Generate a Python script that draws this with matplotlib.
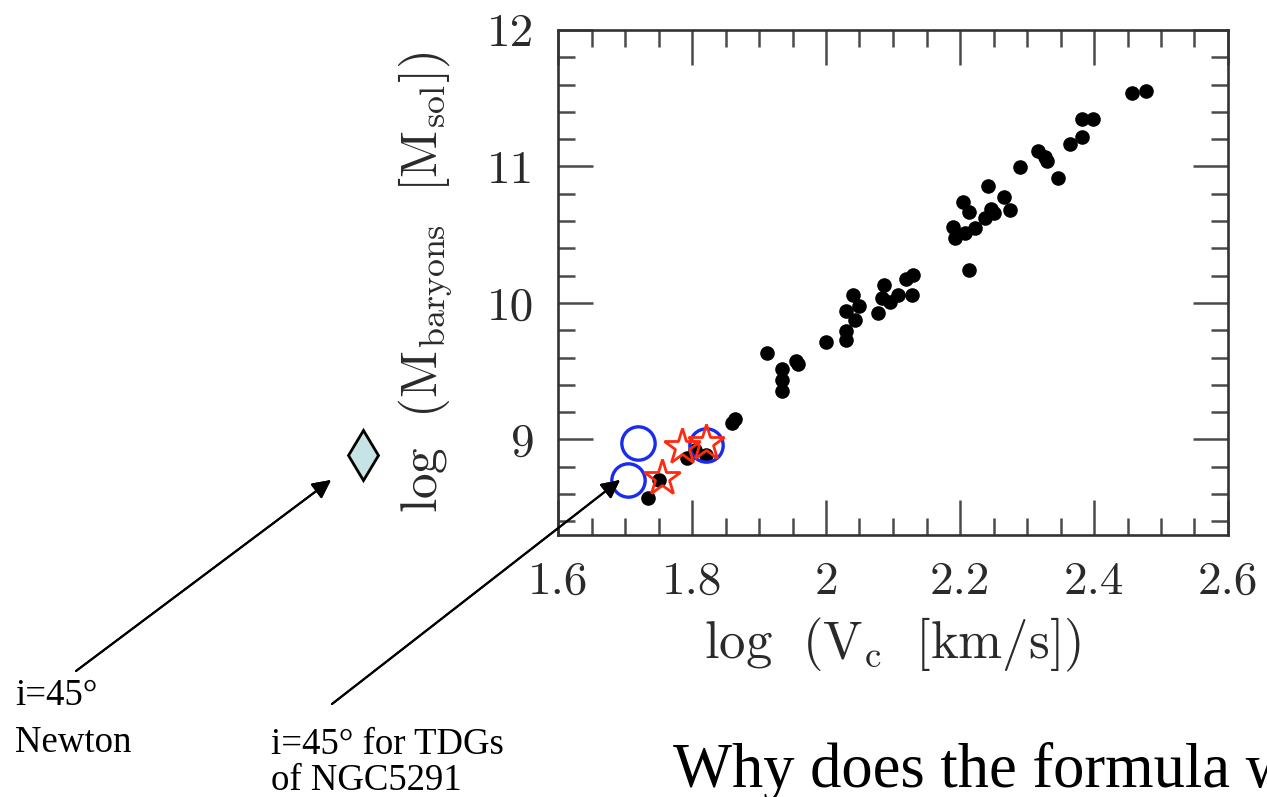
import matplotlib
matplotlib.use("Agg")
import matplotlib.pyplot as plt
from matplotlib.ticker import MultipleLocator, FixedLocator

plt.rcParams['mathtext.fontset'] = 'cm'

# ---- data ----
gal_logv = [2.456, 2.477, 2.382, 2.398, 2.382, 2.364, 2.317, 2.327, 2.330, 2.289,
            2.347, 2.242, 2.266, 2.274, 2.247, 2.250, 2.237, 2.222, 2.204, 2.214,
            2.189, 2.208, 2.193, 2.213,
            2.130, 2.119, 2.086, 2.128, 2.107, 2.083, 2.095, 2.078, 2.041, 2.050,
            2.030, 2.043, 2.030, 2.030, 2.000, 1.955, 1.958, 1.912, 1.934, 1.934,
            1.934, 1.859, 1.864,
            1.735, 1.751, 1.793, 1.8045, 1.821]
gal_logm = [11.536, 11.551, 11.346, 11.346, 11.214, 11.165, 11.116, 11.067, 11.040, 10.994,
            10.918, 10.857, 10.774, 10.681, 10.690, 10.660, 10.620, 10.547, 10.742, 10.669,
            10.559, 10.511, 10.474, 10.242,
            10.205, 10.174, 10.134, 10.056, 10.061, 10.037, 10.005, 9.925, 10.061, 9.975,
            9.940, 9.876, 9.797, 9.729, 9.717, 9.575, 9.555, 9.630, 9.519, 9.432,
            9.358, 9.123, 9.148,
            8.574, 8.700, 8.862, 8.923, 8.887]

tdg_circ_logv = [1.720, 1.705, 1.821]
tdg_circ_logm = [8.977, 8.703, 8.960]

tdg_star_logv = [1.785, 1.821, 1.755]
tdg_star_logm = [8.948, 8.977, 8.716]

newton_logv = [1.309]
newton_logm = [8.886]

xticks = [1.6, 1.8, 2.0, 2.2, 2.4, 2.6]
xticklabels = ['1.6', '1.8', '2', '2.2', '2.4', '2.6']
yticks = [9, 10, 11, 12]
yticklabels = ['9', '10', '11', '12']

# ---- figure ----
W, H = 1267, 797
fig = plt.figure(figsize=(W / 100, H / 100), dpi=100)
ax = fig.add_axes([558 / W, 1 - 535 / H, 670 / W, 505 / H])

ax.set_xlim(1.6, 2.6)
ax.set_ylim(8.3, 12.0)

ax.plot(gal_logv, gal_logm, 'o', color='black', ms=10.5, mew=0, zorder=3)
ax.plot(tdg_circ_logv, tdg_circ_logm, 'o', mfc='none', mec='#1a2cf0', ms=24, mew=2.4, zorder=4)
ax.plot(tdg_star_logv, tdg_star_logm, '*', mfc='none', mec='#ff2a10', ms=27, mew=2.0, zorder=5)
ax.plot(newton_logv, newton_logm, 'd', mfc='#c6e4e6', mec='black', ms=25, mew=2.0,
        clip_on=False, zorder=5)

ax.xaxis.set_major_locator(FixedLocator(xticks))
ax.set_xticklabels(xticklabels)
ax.xaxis.set_minor_locator(MultipleLocator(0.05))
ax.yaxis.set_major_locator(FixedLocator(yticks))
ax.set_yticklabels(yticklabels)
ax.yaxis.set_minor_locator(MultipleLocator(0.2))

tickcol = '#4a4a4a'
ax.tick_params(which='both', direction='in', top=True, right=True, color=tickcol, width=1.8)
ax.tick_params(which='major', length=25)
ax.tick_params(which='minor', length=12)
ax.tick_params(axis='x', which='major', pad=19, labelsize=34, labelcolor='#2a2a2a')
ax.tick_params(axis='y', which='major', pad=17, labelsize=34, labelcolor='#2a2a2a')
for lab in ax.get_xticklabels() + ax.get_yticklabels():
    lab.set_fontfamily('cmr10')
for sp in ax.spines.values():
    sp.set_linewidth(1.9)
    sp.set_color('#333333')

ax.text(0.5, -0.218, r'$\mathrm{log}\ \ (\mathrm{V_c}\ \ [\mathrm{km/s}])$', transform=ax.transAxes,
        ha='center', va='center', fontsize=38, color='#2a2a2a')
ax.text(-0.197, 0.5, r'$\mathrm{log}\ \ (\mathrm{M_{baryons}}\ \ [\mathrm{M_{sol}}])$', transform=ax.transAxes,
        ha='center', va='center', rotation=90, fontsize=37, color='#2a2a2a')

# ---- annotations (figure pixels, origin bottom-left) ----
ap = dict(arrowstyle='-|>', color='black', lw=1.5, mutation_scale=28, shrinkA=0, shrinkB=0)
fig.add_artist(plt.annotate('', xy=(331, H - 480), xytext=(76, H - 671),
                            xycoords='figure pixels', textcoords='figure pixels', arrowprops=ap))
fig.add_artist(plt.annotate('', xy=(620, H - 480), xytext=(332, H - 704),
                            xycoords='figure pixels', textcoords='figure pixels', arrowprops=ap))

serif = 'Liberation Serif'
def ftxt(x, y, s, size):
    fig.text(x / W, 1 - y / H, s, ha='left', va='baseline', fontsize=size,
             family=serif, color='black')

ftxt(15, 705, 'i=45°', 26.5)
ftxt(15, 752, 'Newton', 26.5)
ftxt(271, 754, 'i=45° for TDGs', 26.5)
ftxt(271, 790, 'of NGC5291', 26.5)
ftxt(673, 787, 'Why does the formula work?', 45)

fig.savefig('out.png', dpi=100)
